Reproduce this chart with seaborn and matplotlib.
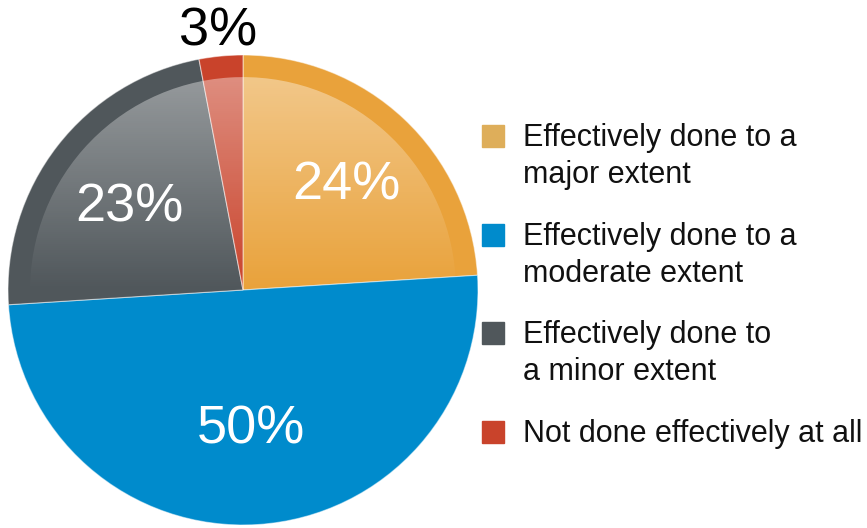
import numpy as np
import matplotlib
matplotlib.use("Agg")
import matplotlib.pyplot as plt
from matplotlib.patches import Wedge, Rectangle
import seaborn as sns

# Datos del grafico
categorias = ["Effectively done to a\nmajor extent",
              "Effectively done to a\nmoderate extent",
              "Effectively done to\na minor extent",
              "Not done effectively at all"]
valores = [24, 50, 23, 3]
colores_pie = ["#E9A23B", "#008BCC", "#50575B", "#C9432B"]
colores_leyenda = ["#DEAE5A", "#008BCC", "#50575B", "#C9432B"]

sns.set_theme(style="white")
plt.rcParams["font.family"] = ["Liberation Sans", "DejaVu Sans"]

W, H = 867, 528
fig = plt.figure(figsize=(W / 100, H / 100), dpi=100)

# Ejes del pastel (centro 243,290 px; radio 235 px)
cx, cy, r = 243, 290, 235
ax = fig.add_axes([(cx - r) / W, (H - cy - r) / H, 2 * r / W, 2 * r / H])

wedges, textos, autotextos = ax.pie(
    valores, colors=colores_pie, startangle=90, counterclock=False,
    radius=1, autopct="%d%%", pctdistance=0.6,
    wedgeprops=dict(edgecolor=(1, 1, 1, 0.5), linewidth=0.8),
    textprops=dict(color="white", fontsize=39))
ax.set_xlim(-1, 1)
ax.set_ylim(-1, 1)
ax.set_aspect("equal")
ax.axis("off")

# Ajuste de la distancia de cada etiqueta; el 3% va fuera, en negro
dist_etiq = [0.645, 0.57, 0.61, 1.13]
for w, t, d in zip(wedges, autotextos, dist_etiq):
    ang = np.deg2rad((w.theta1 + w.theta2) / 2)
    t.set_position((d * np.cos(ang), d * np.sin(ang)))
    t.set_va("center_baseline")
autotextos[-1].set_color("black")

# Brillo degradado en la mitad superior (anillo exterior sin brillo)
r_int = 0.906
yy = np.linspace(1, -1, 400)
alpha = np.clip(yy / r_int, 0, 1) * 0.4
grad = np.ones((400, 2, 4))
grad[:, :, 3] = alpha[:, None]
img = ax.imshow(grad, extent=[-1, 1, -1, 1], interpolation="bilinear", zorder=2, aspect="auto")
clip = Wedge((0, 0), r_int, wedges[0].theta1, wedges[2].theta2, transform=ax.transData)
img.set_clip_path(clip)
ax.set_xlim(-1, 1)
ax.set_ylim(-1, 1)

# Leyenda manual
bases = [146, 245, 343, 442]
for cat, col, yb in zip(categorias, colores_leyenda, bases):
    fig.patches.append(Rectangle((482 / W, 1 - (yb + 1) / H), 22 / W, 22 / H,
                                 transform=fig.transFigure, color=col))
    for k, linea in enumerate(cat.split("\n")):
        fig.text(523 / W, 1 - (yb + 37 * k) / H, linea, fontsize=22,
                 color="#111111", va="baseline", ha="left")

fig.savefig("out.png", dpi=100)
